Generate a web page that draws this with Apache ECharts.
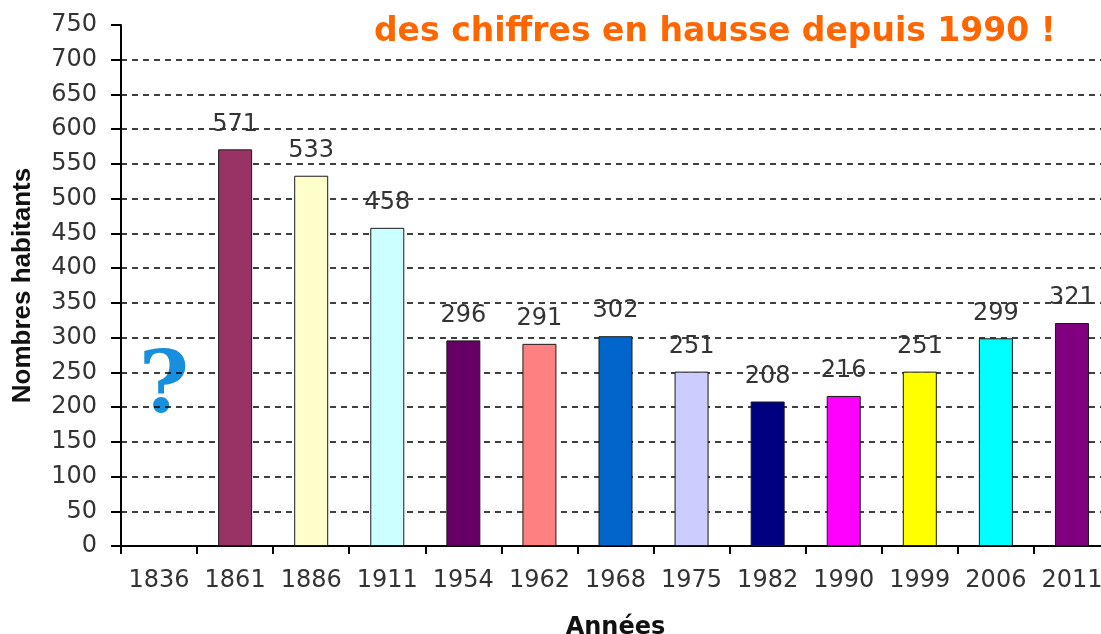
<!DOCTYPE html>
<html>
<head>
<meta charset="utf-8">
<script src="https://cdn.jsdelivr.net/npm/echarts@6/dist/echarts.min.js"></script>
<style>
  html, body { margin: 0; padding: 0; background: #ffffff; }
  #chart { width: 1101px; height: 634px; }
</style>
</head>
<body>
<div id="chart"></div>
<script>
// ---- data ----
const categories = ['1836', '1861', '1886', '1911', '1954', '1962', '1968', '1975', '1982', '1990', '1999', '2006', '2011'];
const populations = ['-', 571, 533, 458, 296, 291, 302, 251, 208, 216, 251, 299, 321];
const barColors = ['#ffffff', '#993366', '#FFFFCC', '#CCFFFF', '#660066', '#FF8080', '#0066CC', '#CCCCFF', '#000080', '#FF00FF', '#FFFF00', '#00FFFF', '#800080'];
const yMin = 0;
const yMax = 750;
const yStep = 50;
const chartTitle = 'des chiffres en hausse depuis 1990 !';
const yTitle = 'Nombres habitants';
const xTitle = 'Années';
const unknownMark = '?';

const chart = echarts.init(document.getElementById('chart'), null, { renderer: 'canvas' });

const option = {
  backgroundColor: '#ffffff',
  animation: false,
  title: {
    text: chartTitle,
    left: 369,
    top: 11,
    textStyle: {
      fontFamily: 'DejaVu Sans',
      fontWeight: 'bold',
      fontSize: 33,
      color: '#FF6600'
    }
  },
  grid: {
    left: 121,
    right: -9,
    top: 25,
    bottom: 88,
    containLabel: false,
    outerBoundsMode: 'none'
  },
  xAxis: {
    type: 'category',
    data: categories,
    boundaryGap: true,
    name: xTitle,
    nameLocation: 'middle',
    nameGap: 70,
    nameTextStyle: {
      fontFamily: 'DejaVu Sans',
      fontWeight: 'bold',
      fontSize: 24,
      color: '#111111'
    },
    axisLine: { show: true, lineStyle: { color: '#000000', width: 2 } },
    axisTick: { show: true, alignWithLabel: false, length: 8, lineStyle: { color: '#000000', width: 2 } },
    axisLabel: {
      interval: 0,
      margin: 23,
      fontFamily: 'DejaVu Sans',
      fontSize: 24,
      color: '#333333'
    },
    splitLine: { show: false }
  },
  yAxis: {
    type: 'value',
    min: yMin,
    max: yMax,
    interval: yStep,
    name: yTitle,
    nameLocation: 'middle',
    nameGap: 85,
    nameRotate: 90,
    nameTextStyle: {
      fontFamily: 'Liberation Sans',
      fontWeight: 'bold',
      fontSize: 26,
      color: '#111111'
    },
    axisLine: { show: true, lineStyle: { color: '#000000', width: 2 } },
    axisTick: { show: true, inside: false, length: 10, lineStyle: { color: '#000000', width: 2 } },
    axisLabel: {
      margin: 24,
      fontFamily: 'DejaVu Sans',
      fontSize: 24,
      color: '#333333'
    },
    splitLine: {
      show: true,
      showMinLine: false,
      showMaxLine: false,
      lineStyle: { color: '#000000', width: 1.5, type: [6, 5] }
    }
  },
  series: [{
    type: 'bar',
    data: populations.map((v, i) => ({
      value: v,
      itemStyle: { color: barColors[i] }
    })),
    barWidth: 34,
    itemStyle: { borderColor: '#1a1a1a', borderWidth: 1 },
    label: {
      show: true,
      position: 'top',
      distance: 13,
      fontFamily: 'DejaVu Sans',
      fontSize: 24,
      color: '#333333'
    },
    z: 3
  }],
  graphic: [{
    type: 'group',
    z: 100,
    children: [
      {
        type: 'rect',
        shape: { x: 133, y: 354, width: 60, height: 62 },
        style: { fill: '#ffffff' }
      },
      {
        type: 'text',
        x: 164,
        y: 390,
        style: {
          text: unknownMark,
          fontFamily: 'DejaVu Serif',
          fontWeight: 'bold',
          fontSize: 86,
          fill: '#168fdc',
          textAlign: 'center',
          textVerticalAlign: 'middle'
        }
      }
    ]
  }]
};

chart.setOption(option);
</script>
</body>
</html>
